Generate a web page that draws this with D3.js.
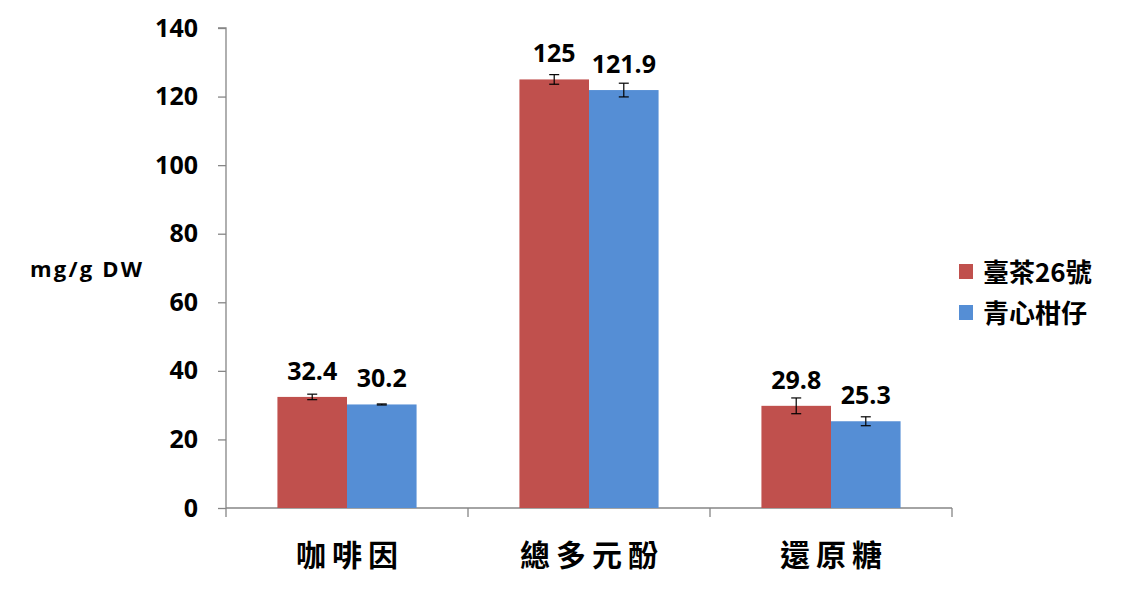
<!DOCTYPE html>
<html><head><meta charset="utf-8">
<script src="https://cdn.jsdelivr.net/npm/d3@7"></script>
<style>body{margin:0;background:#fff;} svg{display:block;}</style>
</head><body>
<svg id="chart" width="1146" height="590"></svg>
<script>
const categories = ["咖啡因", "總多元酚", "還原糖"];
const seriesNames = ["臺茶26號", "青心柑仔"];
const series1 = [32.4, 125, 29.8];
const series2 = [30.2, 121.9, 25.3];
const errors1 = [0.8, 1.4, 2.3];
const errors2 = [0.15, 2.0, 1.3];
const yTicks = [0, 20, 40, 60, 80, 100, 120, 140];
const colors = ["#C0504D", "#558ED5"];

const svg = d3.select("#chart");
const x0 = 226, x1 = 952, yTop = 28, yBot = 508;
const x = d3.scaleBand().domain(categories).range([x0, x1]).paddingInner(0).paddingOuter(0);
const y = d3.scaleLinear().domain([0, 140]).range([yBot, yTop]);
const groupW = x.bandwidth() * 0.575;
const xs = d3.scaleBand().domain(seriesNames).range([0, groupW]).padding(0);
const numFont = "'Open Sans', 'Liberation Sans', Arial, sans-serif";

const axisColor = "#868686";
// y axis
const yAxis = svg.append("g").attr("transform", `translate(${x0},0)`)
  .call(d3.axisLeft(y).tickValues(yTicks).tickSize(8).tickPadding(20).tickFormat(d3.format("d")));
yAxis.select(".domain").attr("stroke", axisColor).attr("stroke-width", 1.3).attr("d", `M-8,${yTop}H0V${yBot}`);
yAxis.selectAll(".tick line").attr("stroke", axisColor).attr("stroke-width", 1.3);
yAxis.selectAll(".tick text").attr("fill", "#000").style("font-family", numFont)
  .style("font-weight", "bold").style("font-size", "25px");

// x axis
const xAxisG = svg.append("g").attr("transform", `translate(0,${yBot})`);
xAxisG.append("line").attr("x1", x0).attr("x2", x1).attr("y1", 0).attr("y2", 0)
  .attr("stroke", axisColor).attr("stroke-width", 1.3);
const xTickPos = categories.map(c => x(c)).concat([x1]);
xAxisG.selectAll("line.tk").data(xTickPos).enter().append("line").attr("class", "tk")
  .attr("x1", d => d).attr("x2", d => d).attr("y1", 0).attr("y2", 9)
  .attr("stroke", axisColor).attr("stroke-width", 1.3);
xAxisG.selectAll("text.cat").data(categories).enter().append("text").attr("class", "cat")
  .attr("x", d => x(d) + x.bandwidth() / 2 + 3).attr("y", 58)
  .attr("text-anchor", "middle")
  .style("font-family", "'Noto Sans CJK TC', 'Noto Sans CJK SC', sans-serif")
  .style("font-weight", "bold").style("font-size", "30px").style("letter-spacing", "6px")
  .attr("fill", "#000").text(d => d);

// bars
const allSeries = [series1, series2];
const allErr = [errors1, errors2];
seriesNames.forEach((s, si) => {
  const g = svg.append("g");
  const data = categories.map((c, i) => ({c, v: allSeries[si][i], e: allErr[si][i]}));
  const bx = d => x(d.c) + (x.bandwidth() - groupW) / 2 + xs(s);
  g.selectAll("rect").data(data).enter().append("rect")
    .attr("x", bx).attr("width", xs.bandwidth())
    .attr("y", d => y(d.v)).attr("height", d => y(0) - y(d.v))
    .attr("fill", colors[si]);
  const eg = g.selectAll("g.err").data(data).enter().append("g").attr("class", "err");
  const cx = d => bx(d) + xs.bandwidth() / 2;
  eg.append("line").attr("x1", cx).attr("x2", cx).attr("y1", d => y(d.v + d.e)).attr("y2", d => y(d.v - d.e))
    .attr("stroke", "#000").attr("stroke-width", 1.2);
  eg.append("line").attr("x1", d => cx(d) - 5).attr("x2", d => cx(d) + 5).attr("y1", d => y(d.v + d.e)).attr("y2", d => y(d.v + d.e))
    .attr("stroke", "#000").attr("stroke-width", 1.2);
  eg.append("line").attr("x1", d => cx(d) - 5).attr("x2", d => cx(d) + 5).attr("y1", d => y(d.v - d.e)).attr("y2", d => y(d.v - d.e))
    .attr("stroke", "#000").attr("stroke-width", 1.2);
  g.selectAll("text.val").data(data).enter().append("text").attr("class", "val")
    .attr("x", cx).attr("y", d => y(d.v) - 17)
    .attr("text-anchor", "middle")
    .style("font-family", numFont).style("font-weight", "bold").style("font-size", "25px")
    .attr("fill", "#000").text(d => d.v);
});

// y label
svg.append("text").attr("x", 30).attr("y", 277)
  .style("font-family", numFont).style("font-weight", "bold").style("font-size", "22px")
  .style("letter-spacing", "2.2px")
  .attr("fill", "#000").text("mg/g DW");

// legend
const lg = svg.append("g").attr("transform", "translate(959,264)");
seriesNames.forEach((s, i) => {
  const r = lg.append("g").attr("transform", `translate(0,${i * 41})`);
  r.append("rect").attr("width", 14).attr("height", 15).attr("fill", colors[i]);
  r.append("text").attr("x", 24).attr("y", 18)
    .style("font-family", "'Noto Sans CJK TC', 'Noto Sans CJK SC', sans-serif")
    .style("font-weight", "bold").style("font-size", "26px")
    .attr("fill", "#000").text(s);
});
</script>
</body></html>
